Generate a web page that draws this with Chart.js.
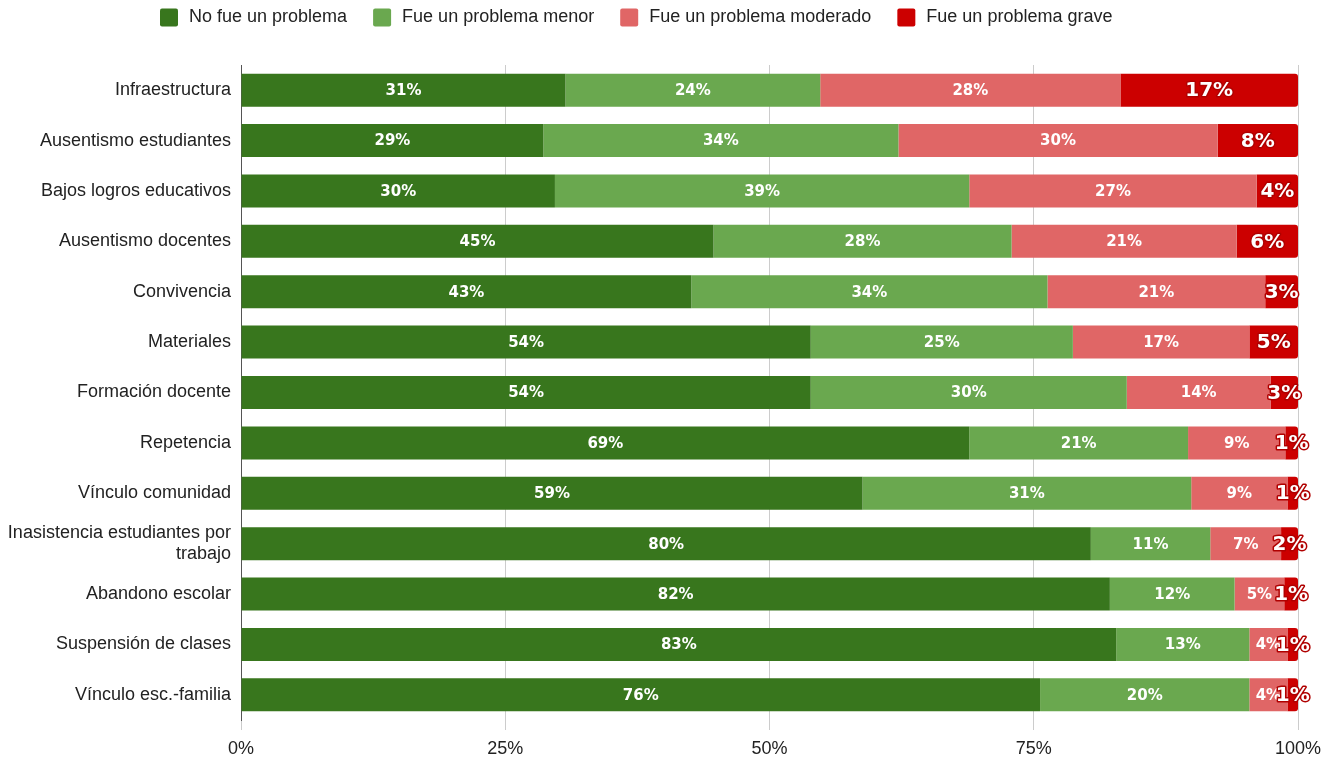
<!DOCTYPE html>
<html>
<head>
<meta charset="utf-8">
<script src="https://cdn.jsdelivr.net/npm/chart.js@4"></script>
<style>
  html, body { margin: 0; padding: 0; background: #fff; }
  #wrap { width: 1333px; height: 760px; }
</style>
</head>
<body>
<div id="wrap"><canvas id="grafico"></canvas></div>
<script>
// Datos (porcentajes)
const categorias = [
  'Infraestructura', 'Ausentismo estudiantes', 'Bajos logros educativos', 'Ausentismo docentes',
  'Convivencia', 'Materiales', 'Formación docente', 'Repetencia', 'Vínculo comunidad',
  ['Inasistencia estudiantes por', 'trabajo'], 'Abandono escolar', 'Suspensión de clases', 'Vínculo esc.-familia'
];
const noProblema = [30.7, 28.6, 29.7, 44.7, 42.6, 53.9, 53.9, 68.9, 58.8, 80.4, 82.2, 82.8, 75.6];
const menor      = [24.1, 33.6, 39.2, 28.2, 33.7, 24.8, 29.9, 20.7, 31.1, 11.3, 11.8, 12.6, 19.8];
const moderado   = [28.4, 30.2, 27.2, 21.3, 20.6, 16.7, 13.6,  9.2,  9.1,  6.7,  4.7,  3.6,  3.6];
const grave      = [16.8,  7.6,  3.9,  5.8,  3.1,  4.6,  2.6,  1.2,  1.0,  1.6,  1.3,  1.0,  1.0];
const ticksX = [0, 25, 50, 75, 100];

const colores = ['#38761d', '#6aa84f', '#e06666', '#cc0000'];
const fuente = '"Liberation Sans", Arial';

// Etiquetas de datos dentro de las barras
const etiquetas = {
  id: 'etiquetas',
  afterDatasetsDraw(chart) {
    const ctx = chart.ctx;
    chart.data.datasets.forEach((ds, i) => {
      const meta = chart.getDatasetMeta(i);
      meta.data.forEach((bar, j) => {
        const txt = Math.round(ds.data[j]) + '%';
        const cx = (bar.x + bar.base) / 2;
        ctx.save();
        ctx.textAlign = 'center';
        ctx.textBaseline = 'middle';
        if (i === 3) {
          ctx.font = 'bold 20px "DejaVu Sans"';
          ctx.lineWidth = 3;
          ctx.lineJoin = 'round';
          ctx.strokeStyle = '#b00000';
          ctx.strokeText(txt, cx, bar.y + 1);
        } else {
          ctx.font = 'bold 15px "DejaVu Sans"';
        }
        ctx.fillStyle = '#ffffff';
        ctx.fillText(txt, cx, bar.y + 1);
        ctx.restore();
      });
    });
  }
};

// Leyenda arriba, dibujada a mano
const leyenda = {
  id: 'leyenda',
  afterDraw(chart) {
    const ctx = chart.ctx;
    ctx.save();
    ctx.font = '18px ' + fuente;
    ctx.textBaseline = 'middle';
    const caja = 18, hueco = 11, sep = 26;
    let x = 160;
    const y = 17.5;
    chart.data.datasets.forEach(ds => {
      const w = ctx.measureText(ds.label).width;
      ctx.fillStyle = ds.backgroundColor;
      ctx.beginPath();
      ctx.roundRect(x, y - caja / 2, caja, caja, 2);
      ctx.fill();
      ctx.fillStyle = '#222';
      ctx.fillText(ds.label, x + caja + hueco, y);
      x += caja + hueco + w + sep;
    });
    ctx.restore();
  }
};

new Chart(document.getElementById('grafico').getContext('2d'), {
  type: 'bar',
  data: {
    labels: categorias,
    datasets: [
      { label: 'No fue un problema', data: noProblema, backgroundColor: colores[0] },
      { label: 'Fue un problema menor', data: menor, backgroundColor: colores[1] },
      { label: 'Fue un problema moderado', data: moderado, backgroundColor: colores[2] },
      { label: 'Fue un problema grave', data: grave, backgroundColor: colores[3],
        borderRadius: { topRight: 3, bottomRight: 3, topLeft: 0, bottomLeft: 0 }, borderSkipped: false }
    ]
  },
  options: {
    indexAxis: 'y',
    responsive: true,
    maintainAspectRatio: false,
    animation: false,
    layout: { padding: { left: 0, right: 35, top: 65, bottom: 0 } },
    datasets: { bar: { barPercentage: 0.655, categoryPercentage: 1 } },
    plugins: {
      tooltip: { enabled: false },
      legend: { display: false }
    },
    scales: {
      x: {
        stacked: true, min: 0, max: 100,
        afterBuildTicks: s => { s.ticks = ticksX.map(v => ({ value: v })); },
        afterFit: s => { s.height = 40; },
        ticks: { callback: v => v + '%', color: '#222', padding: 8,
                 font: { family: fuente, size: 18 } },
        grid: { color: '#cccccc', tickLength: 10 },
        border: { display: false }
      },
      y: {
        stacked: true,
        afterFit: s => { s.width = 241; },
        ticks: { color: '#222', padding: 10, font: { family: fuente, size: 18 } },
        grid: { display: false, drawTicks: false, tickLength: 0 },
        border: { color: '#555555', width: 1 }
      }
    }
  },
  plugins: [etiquetas, leyenda]
});
</script>
</body>
</html>
